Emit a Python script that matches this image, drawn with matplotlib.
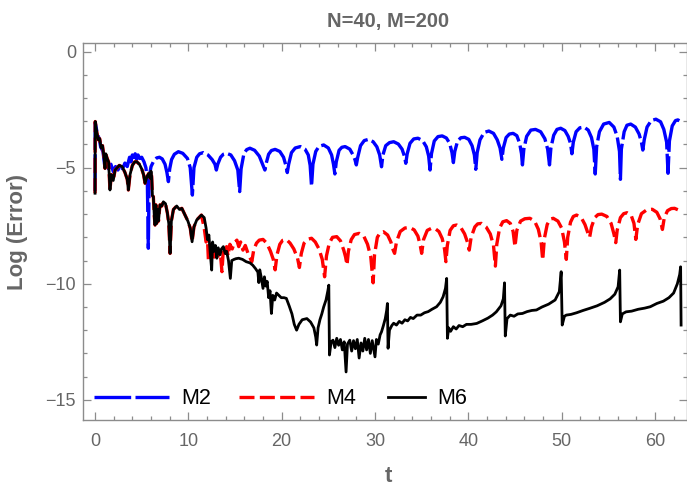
import matplotlib
matplotlib.use("Agg")
import matplotlib.pyplot as plt

plt.rcParams['font.family'] = ['Liberation Sans', 'DejaVu Sans']

# ---- data: log10 error vs time for the three schemes ----
m2_t = [0.00, 0.02, 0.25, 0.45, 0.60, 0.85, 1.05, 1.20, 1.45, 1.70, 1.96, 2.20, 2.45, 2.70, 2.95,
        3.20, 3.45, 3.70, 3.85, 4.00, 4.15, 4.30, 4.45, 4.60, 4.80, 5.00, 5.25, 5.45, 5.60, 5.71,
        5.80, 6.00, 6.30, 6.60, 6.90, 7.20, 7.50, 7.70, 7.86, 8.00, 8.20, 8.50, 8.93, 9.40, 9.90,
        10.20, 10.43, 10.60, 10.90, 11.20, 11.60, 12.10, 12.55, 12.85, 13.00, 13.15, 13.45, 13.75,
        14.10, 14.55, 14.95, 15.30, 15.50, 15.65, 15.95, 16.25, 16.60, 17.10, 17.60, 17.95, 18.20,
        18.35, 18.60, 18.90, 19.30, 19.80, 20.20, 20.45, 20.60, 20.75, 21.05, 21.45, 22.00, 22.50,
        22.85, 23.05, 23.20, 23.35, 23.65, 24.00, 24.50, 25.00, 25.35, 25.55, 25.70, 25.85, 26.15,
        26.45, 26.80, 27.30, 27.65, 27.85, 28.00, 28.15, 28.45, 28.85, 29.30, 29.80, 30.20, 30.50,
        30.70, 30.85, 31.15, 31.55, 32.00, 32.50, 32.90, 33.15, 33.30, 33.45, 33.75, 34.15, 34.60,
        35.10, 35.50, 35.75, 35.90, 36.05, 36.35, 36.75, 37.20, 37.65, 38.00, 38.25, 38.40, 38.55,
        38.85, 39.20, 39.60, 40.05, 40.40, 40.65, 40.80, 40.95, 41.25, 41.70, 42.20, 42.70, 43.10,
        43.40, 43.60, 43.75, 44.05, 44.40, 44.80, 45.20, 45.50, 45.70, 45.80, 45.95, 46.25, 46.70,
        47.20, 47.75, 48.20, 48.50, 48.70, 48.85, 49.15, 49.50, 49.90, 50.35, 50.70, 50.95, 51.10,
        51.25, 51.55, 51.95, 52.40, 52.85, 53.20, 53.45, 53.60, 53.75, 54.05, 54.50, 55.10, 55.60,
        55.95, 56.20, 56.30, 56.40, 56.70, 57.00, 57.40, 57.90, 58.30, 58.55, 58.70, 58.85, 59.15,
        59.60, 60.10, 60.60, 60.95, 61.25, 61.40, 61.55, 61.85, 62.20, 62.45, 62.83]
m2_v = [-6.00, -3.05, -3.55, -3.75, -4.10, -4.30, -4.95, -4.60, -5.05, -4.85, -5.17, -4.95, -5.10,
        -4.90, -5.05, -4.80, -4.95, -4.55, -4.75, -4.45, -4.70, -4.40, -4.65, -4.45, -4.60, -4.55,
        -4.75, -5.00, -5.50, -8.47, -5.40, -4.95, -4.70, -4.58, -4.55, -4.62, -4.85, -5.20, -5.60,
        -5.05, -4.65, -4.42, -4.31, -4.38, -4.60, -5.00, -6.18, -5.00, -4.55, -4.40, -4.35, -4.45,
        -4.65, -4.85, -5.10, -4.85, -4.55, -4.42, -4.38, -4.45, -4.70, -5.10, -6.03, -5.05, -4.40,
        -4.22, -4.16, -4.25, -4.50, -4.85, -5.10, -4.80, -4.42, -4.26, -4.21, -4.30, -4.55, -4.90,
        -5.21, -4.85, -4.35, -4.15, -4.09, -4.20, -4.45, -4.90, -5.80, -4.85, -4.30, -4.08, -4.02,
        -4.15, -4.45, -4.85, -5.27, -4.75, -4.25, -4.12, -4.09, -4.20, -4.45, -4.65, -4.88, -4.55,
        -4.05, -3.83, -3.78, -3.88, -4.10, -4.45, -4.96, -4.45, -4.05, -3.92, -3.88, -3.98, -4.20,
        -4.50, -4.81, -4.40, -3.95, -3.76, -3.73, -3.83, -4.10, -4.50, -5.10, -4.40, -3.85, -3.66,
        -3.63, -3.72, -3.95, -4.35, -4.78, -4.30, -3.85, -3.71, -3.69, -3.78, -4.05, -4.45, -5.07,
        -4.35, -3.80, -3.48, -3.42, -3.52, -3.80, -4.15, -4.64, -4.15, -3.70, -3.55, -3.52, -3.62,
        -3.95, -4.40, -4.88, -4.20, -3.65, -3.38, -3.35, -3.45, -3.75, -4.20, -4.88, -4.15, -3.60,
        -3.35, -3.30, -3.40, -3.65, -3.95, -4.40, -3.90, -3.45, -3.28, -3.25, -3.38, -3.70, -4.20,
        -5.27, -4.10, -3.45, -3.12, -3.05, -3.25, -3.65, -4.30, -5.50, -4.20, -3.45, -3.17, -3.12,
        -3.25, -3.55, -3.90, -4.24, -3.80, -3.25, -2.97, -2.91, -3.02, -3.35, -3.90, -5.24, -3.85,
        -3.20, -2.97, -2.94, -3.02]

m4_t = [0.00, 0.02, 0.20, 0.36, 0.50, 0.65, 0.80, 0.95, 1.07, 1.15, 1.30, 1.45, 1.60, 1.75, 1.95,
        2.15, 2.30, 2.60, 2.90, 3.20, 3.45, 3.57, 3.75, 4.00, 4.25, 4.46, 4.75, 5.00, 5.20, 5.36,
        5.55, 5.75, 5.90, 6.00, 6.07, 6.15, 6.25, 6.35, 6.43, 6.52, 6.60, 6.70, 6.80, 6.96, 7.15,
        7.32, 7.55, 7.75, 7.90, 8.04, 8.18, 8.40, 8.75, 9.05, 9.30, 9.60, 9.95, 10.20, 10.40, 10.60,
        10.90, 11.40, 11.70, 11.90, 12.05, 12.15, 12.30, 12.50, 12.65, 12.80, 13.00, 13.20, 13.40,
        13.60, 13.75, 13.95, 14.10, 14.25, 14.45, 14.70, 14.90, 15.20, 15.40, 15.60, 15.85, 16.10,
        16.40, 16.80, 17.00, 17.30, 17.60, 18.00, 18.40, 18.80, 19.10, 19.30, 19.50, 19.80, 20.10,
        20.50, 20.90, 21.30, 21.70, 21.90, 22.10, 22.40, 22.80, 23.20, 23.60, 24.00, 24.35, 24.60,
        24.80, 25.10, 25.45, 25.90, 26.30, 26.65, 26.85, 27.00, 27.15, 27.45, 27.80, 28.30, 28.80,
        29.20, 29.55, 29.80, 29.95, 30.25, 30.55, 30.90, 31.35, 31.70, 31.95, 32.10, 32.30, 32.70,
        33.20, 33.70, 34.20, 34.60, 34.85, 35.00, 35.20, 35.60, 36.00, 36.40, 36.85, 37.20, 37.45,
        37.60, 37.75, 38.05, 38.40, 38.75, 39.20, 39.60, 39.90, 40.10, 40.30, 40.70, 41.00, 41.40,
        41.90, 42.35, 42.70, 42.90, 43.05, 43.35, 43.70, 44.10, 44.50, 44.80, 45.00, 45.20, 45.60,
        46.05, 46.60, 47.10, 47.50, 47.80, 47.97, 48.15, 48.45, 48.75, 49.10, 49.60, 50.00, 50.30,
        50.50, 50.65, 50.95, 51.25, 51.60, 52.10, 52.50, 52.80, 53.00, 53.20, 53.55, 53.90, 54.30,
        54.85, 55.30, 55.60, 55.80, 55.95, 56.30, 56.65, 57.00, 57.45, 57.75, 57.95, 58.15, 58.55,
        59.10, 59.70, 60.20, 60.55, 60.80, 61.00, 61.35, 61.75, 62.10, 62.50, 62.83]
m4_v = [-6.10, -3.01, -3.50, -3.80, -3.75, -4.15, -4.05, -4.50, -5.03, -4.40, -4.60, -4.75, -5.96,
        -5.30, -5.55, -5.10, -5.03, -4.90, -4.95, -5.20, -5.50, -5.96, -5.30, -4.90, -4.75, -4.74,
        -4.85, -5.05, -5.30, -5.67, -5.40, -5.25, -5.45, -5.15, -5.39, -6.20, -6.25, -7.10, -7.47,
        -6.60, -7.40, -6.80, -7.30, -6.60, -6.65, -6.47, -6.55, -6.95, -7.40, -8.69, -7.30, -6.80,
        -6.65, -6.80, -6.75, -7.00, -7.30, -7.60, -8.19, -7.55, -7.25, -7.04, -7.60, -8.20, -8.10,
        -8.98, -8.30, -8.90, -8.35, -8.85, -8.45, -8.80, -8.55, -9.48, -8.50, -8.65, -8.40, -8.80,
        -8.30, -8.50, -8.25, -8.12, -8.40, -8.20, -8.55, -8.35, -8.70, -9.05, -8.55, -8.25, -8.12,
        -8.09, -8.25, -8.60, -8.95, -9.40, -8.75, -8.30, -8.13, -8.09, -8.25, -8.50, -8.90, -9.30,
        -8.70, -8.25, -8.08, -8.04, -8.20, -8.50, -8.95, -9.70, -8.80, -8.25, -8.00, -7.97, -8.15,
        -8.55, -8.85, -9.19, -8.60, -8.10, -7.88, -7.83, -7.95, -8.30, -8.85, -9.96, -8.75, -8.00,
        -7.80, -7.76, -7.90, -8.20, -8.55, -8.69, -8.20, -7.75, -7.60, -7.57, -7.68, -7.95, -8.35,
        -8.69, -8.10, -7.70, -7.62, -7.61, -7.75, -8.05, -8.50, -9.05, -8.35, -7.70, -7.50, -7.47,
        -7.58, -7.85, -8.20, -8.55, -8.00, -7.55, -7.42, -7.40, -7.55, -7.85, -8.35, -9.24, -8.30,
        -7.60, -7.33, -7.28, -7.40, -7.75, -8.40, -7.70, -7.30, -7.20, -7.18, -7.30, -7.65, -8.20,
        -8.98, -8.05, -7.45, -7.22, -7.18, -7.30, -7.60, -8.20, -8.95, -8.00, -7.35, -7.10, -7.04,
        -7.15, -7.45, -7.80, -8.00, -7.55, -7.15, -7.02, -7.00, -7.10, -7.40, -7.85, -8.23, -7.70,
        -7.15, -6.98, -6.94, -7.05, -7.40, -8.09, -7.45, -6.98, -6.82, -6.79, -6.92, -7.20, -7.66,
        -7.15, -6.85, -6.76, -6.75, -6.82, -6.97]

m6_t = [0.00, 0.02, 0.20, 0.36, 0.50, 0.65, 0.80, 0.95, 1.07, 1.15, 1.30, 1.45, 1.60, 1.75, 1.95,
        2.15, 2.30, 2.60, 2.90, 3.20, 3.45, 3.57, 3.75, 4.00, 4.25, 4.46, 4.75, 5.00, 5.20, 5.36,
        5.55, 5.75, 5.90, 6.00, 6.07, 6.15, 6.25, 6.35, 6.43, 6.52, 6.60, 6.70, 6.80, 6.96, 7.15,
        7.32, 7.55, 7.75, 7.90, 8.04, 8.18, 8.40, 8.75, 9.05, 9.30, 9.60, 9.95, 10.20, 10.40, 10.60,
        10.90, 11.40, 11.70, 11.90, 12.05, 12.20, 12.35, 12.50, 12.60, 12.75, 12.90, 13.05, 13.20,
        13.40, 13.55, 13.75, 13.95, 14.10, 14.30, 14.50, 14.65, 14.90, 15.10, 15.40, 15.80, 16.20,
        16.60, 16.90, 17.20, 17.45, 17.55, 17.65, 17.80, 18.00, 18.15, 18.30, 18.45, 18.60, 18.75,
        18.90, 19.05, 19.25, 19.45, 19.70, 19.95, 20.25, 20.50, 20.80, 21.10, 21.35, 21.60, 21.85,
        22.20, 22.70, 23.10, 23.45, 23.65, 23.75, 23.90, 24.10, 24.30, 24.50, 24.75, 24.95, 25.05,
        25.12, 25.30, 25.50, 25.70, 25.90, 26.10, 26.30, 26.50, 26.70, 26.90, 27.05, 27.30, 27.50,
        27.70, 27.90, 28.10, 28.30, 28.50, 28.70, 28.90, 29.10, 29.30, 29.50, 29.70, 29.85, 30.00,
        30.15, 30.35, 30.55, 30.70, 30.90, 31.10, 31.25, 31.33, 31.40, 31.55, 31.80, 32.00, 32.30,
        32.60, 32.90, 33.20, 33.50, 33.80, 34.10, 34.50, 34.90, 35.30, 35.70, 36.10, 36.60, 37.00,
        37.30, 37.55, 37.68, 37.76, 37.90, 38.10, 38.40, 38.70, 39.00, 39.40, 39.80, 40.30, 40.90,
        41.50, 42.10, 42.60, 43.00, 43.50, 43.75, 43.88, 43.96, 44.15, 44.50, 44.90, 45.30, 45.80,
        46.30, 46.80, 47.30, 47.90, 48.60, 49.30, 49.75, 49.95, 50.06, 50.30, 50.50, 51.00, 51.60,
        52.30, 53.00, 53.80, 54.60, 55.20, 55.70, 56.05, 56.22, 56.30, 56.50, 56.90, 57.50, 58.20,
        58.90, 59.50, 60.20, 60.90, 61.50, 62.00, 62.40, 62.65, 62.75, 62.80]
m6_v = [-6.10, -3.01, -3.50, -3.80, -3.75, -4.15, -4.05, -4.50, -5.03, -4.40, -4.60, -4.75, -5.96,
        -5.30, -5.55, -5.10, -5.03, -4.90, -4.95, -5.20, -5.50, -5.96, -5.30, -4.90, -4.75, -4.74,
        -4.85, -5.05, -5.30, -5.67, -5.40, -5.25, -5.45, -5.15, -5.39, -6.20, -6.25, -7.10, -7.47,
        -6.60, -7.40, -6.80, -7.30, -6.60, -6.65, -6.47, -6.55, -6.95, -7.40, -8.69, -7.30, -6.80,
        -6.65, -6.80, -6.75, -7.00, -7.30, -7.60, -8.19, -7.55, -7.25, -7.04, -7.15, -7.60, -8.10,
        -7.90, -8.70, -9.41, -8.20, -8.60, -8.35, -8.90, -8.45, -8.75, -8.50, -8.40, -8.70, -8.60,
        -9.00, -9.77, -9.00, -8.95, -8.92, -8.90, -8.95, -9.05, -9.10, -9.20, -9.35, -9.50, -9.95,
        -9.40, -9.70, -10.20, -9.70, -10.10, -9.90, -10.60, -10.30, -11.28, -10.50, -10.70, -10.40,
        -10.50, -10.60, -10.60, -10.63, -10.95, -11.30, -11.75, -12.00, -11.75, -11.55, -11.50,
        -11.65, -11.90, -12.30, -12.64, -11.90, -11.55, -11.30, -11.00, -10.70, -10.30, -10.06,
        -13.07, -12.50, -12.43, -12.75, -12.35, -12.65, -12.40, -12.85, -12.50, -13.80, -12.60,
        -12.43, -12.90, -12.45, -12.80, -12.40, -13.20, -12.55, -12.90, -12.35, -12.85, -12.40,
        -13.00, -12.45, -12.80, -13.15, -12.40, -12.60, -12.20, -12.07, -11.80, -11.50, -11.15,
        -10.85, -12.78, -12.00, -11.80, -11.70, -11.78, -11.62, -11.70, -11.55, -11.60, -11.45,
        -11.50, -11.35, -11.35, -11.25, -11.20, -11.10, -10.99, -10.80, -10.56, -10.20, -9.77,
        -12.35, -11.90, -12.05, -11.85, -11.95, -11.80, -11.85, -11.75, -11.75, -11.71, -11.60,
        -11.48, -11.35, -11.21, -10.95, -10.65, -9.96, -12.25, -11.50, -11.35, -11.40, -11.30,
        -11.28, -11.20, -11.15, -11.13, -11.00, -10.88, -10.70, -10.34, -9.48, -11.78, -11.40,
        -11.35, -11.32, -11.25, -11.15, -11.06, -10.95, -10.80, -10.65, -10.45, -10.13, -9.41,
        -11.64, -11.30, -11.21, -11.18, -11.10, -11.05, -10.99, -10.85, -10.75, -10.60, -10.40,
        -10.00, -9.60, -9.27, -11.78]

series_labels = ["M2", "M4", "M6"]
x_ticks = [0, 10, 20, 30, 40, 50, 60]
y_ticks = [0, -5, -10, -15]

frame_gray = "#8c8c8c"
label_gray = "#666666"

fig = plt.figure(figsize=(6.87, 4.91), dpi=100)
ax = fig.add_axes([83 / 687, 1 - 420 / 491, (686.5 - 83) / 687, (420 - 43.3) / 491])

l2, = ax.plot(m2_t, m2_v, color=(0, 0, 1), lw=2.4, dashes=(11, 1.3),
              solid_joinstyle='round', dash_joinstyle='round', dash_capstyle='butt')
l4, = ax.plot(m4_t, m4_v, color=(1, 0, 0), lw=2.4, dashes=(4.5, 1.6),
              solid_joinstyle='round', dash_joinstyle='round', dash_capstyle='butt')
l6, = ax.plot(m6_t, m6_v, color='black', lw=2.0, solid_joinstyle='round')

ax.set_xlim(-1.29, 63.38)
ax.set_ylim(-15.87, 0.36)

ax.set_xticks(x_ticks)
ax.set_xticks([v for v in range(2, 64, 2) if v % 10], minor=True)
ax.set_yticks(y_ticks)
ax.set_yticks([v for v in range(-15, 1) if v % 5], minor=True)
ax.set_xticklabels([str(v) for v in x_ticks])
ax.set_yticklabels([str(v).replace('-', '\u2212') for v in y_ticks])

for s in ax.spines.values():
    s.set_color(frame_gray)
    s.set_linewidth(1.0)
ax.tick_params(which='both', direction='in', top=True, right=True, color=frame_gray,
               labelcolor=label_gray, labelsize=13, width=0.9)
ax.tick_params(which='major', length=5.5)
ax.tick_params(which='minor', length=3.2)
ax.tick_params(axis='x', pad=9)
ax.tick_params(axis='y', pad=5)

fig.text(388 / 687, 1 - 22 / 491, "N=40, M=200", ha='center', va='center',
         fontsize=14.5, fontweight='bold', color=label_gray)
fig.text(388 / 687, 1 - 477 / 491, "t", ha='center', va='center',
         fontsize=16, fontweight='bold', color=label_gray)
fig.text(18 / 687, 1 - 232 / 491, "Log (Error)", ha='center', va='center', rotation=90,
         fontsize=16, fontweight='bold', color=label_gray)

# legend: long-line entries for the dashed schemes, a short one for M6
leg_a = ax.legend([l2, l4], series_labels[:2], loc='center left',
                  bbox_to_anchor=((94 - 83) / 603.5, (420 - 399) / 376.7),
                  frameon=False, fontsize=15.5, handlelength=3.5, handletextpad=0.55,
                  columnspacing=1.3, ncol=2, borderpad=0, borderaxespad=0)
ax.add_artist(leg_a)
leg_b = ax.legend([l6], series_labels[2:], loc='center left',
                  bbox_to_anchor=((388 - 83) / 603.5, (420 - 399) / 376.7),
                  frameon=False, fontsize=15.5, handlelength=1.72, handletextpad=0.55,
                  borderpad=0, borderaxespad=0)

fig.savefig("out.png", dpi=100)
